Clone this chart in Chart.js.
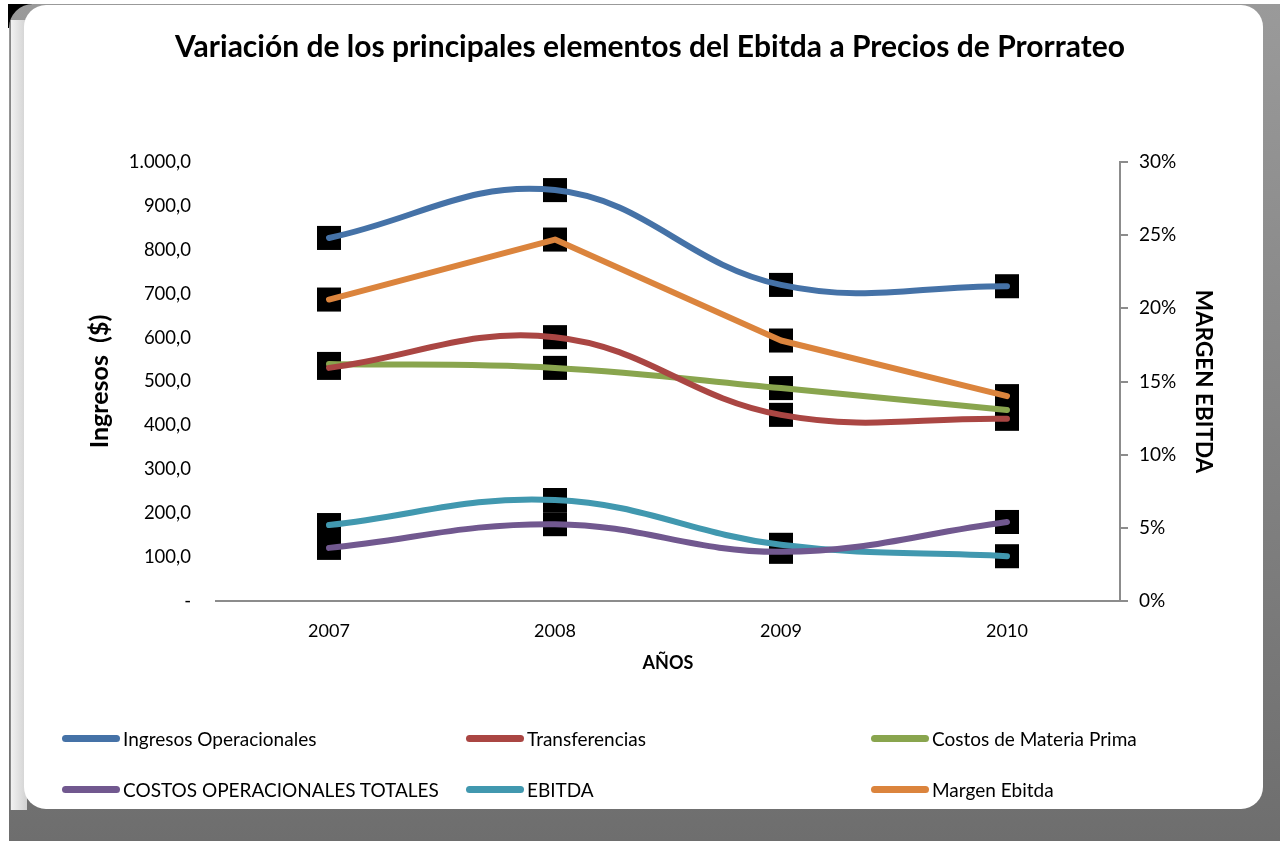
<!DOCTYPE html>
<html>
<head>
<meta charset="utf-8">
<script src="https://cdn.jsdelivr.net/npm/chart.js@4/dist/chart.umd.min.js"></script>
<style>
  html, body { margin:0; padding:0; background:#fff; width:1280px; height:841px; overflow:hidden; font-family: Lato, "Open Sans", sans-serif; }
  #corner { position:absolute; left:8px; top:4px; width:24px; height:24px; background:#000; }
  #outer { position:absolute; left:9px; top:4px; width:1271px; height:837px; border-radius:24px 0 0 0;
           background: linear-gradient(to bottom, #9a9a9a, #6e6e6e); }
  #leftstrip { position:absolute; left:10px; top:20px; width:16px; height:790px;
           background: linear-gradient(to right, #f2f2f2, #d0d0d0); border-left:1px solid #888; }
  #inner { position:absolute; left:24px; top:5px; width:1239px; height:804px; background:#fff; border-radius:22px; }
  canvas { position:absolute; left:0; top:0; }
  #legend { position:absolute; left:0; top:0; width:1280px; height:841px; pointer-events:none; }
  .li { position:absolute; display:flex; align-items:center; font-family: Lato, sans-serif; font-size:19px; color:#000; white-space:nowrap; }
  .sw { width:58px; height:7px; border-radius:4px; margin-right:3px; }
</style>
</head>
<body>
<div id="corner"></div>
<div id="outer"></div>
<div id="leftstrip"></div>
<div id="inner"></div>
<canvas id="c" width="1280" height="841"></canvas>
<div id="legend"></div>
<script>
const years = ['2007', '2008', '2009', '2010'];
const ingresosOperacionales = [827, 936, 720, 717];
const transferencias = [531, 601, 424, 415];
const costosMateriaPrima = [540, 531, 485, 435];
const costosOperacionalesTotales = [121, 175, 112, 180];
const ebitda = [173, 230, 128, 102];
const margenEbitda = [0.206, 0.247, 0.178, 0.140];
const leftTicks = [0, 100, 200, 300, 400, 500, 600, 700, 800, 900, 1000];

const series = [
  { label: 'Ingresos Operacionales', data: ingresosOperacionales, color: '#4572A7', axis: 'y', tension: 0.4 },
  { label: 'Transferencias', data: transferencias, color: '#AA4643', axis: 'y', tension: 0.4 },
  { label: 'Costos de Materia Prima', data: costosMateriaPrima, color: '#89A54E', axis: 'y', tension: 0.4 },
  { label: 'COSTOS OPERACIONALES TOTALES', data: costosOperacionalesTotales, color: '#71588F', axis: 'y', tension: 0.4 },
  { label: 'EBITDA', data: ebitda, color: '#4198AF', axis: 'y', tension: 0.4 },
  { label: 'Margen Ebitda', data: margenEbitda, color: '#DB843D', axis: 'y1', tension: 0 }
];

function fmtEs(v) {
  if (v === 0) return '-';
  const s = v.toFixed(1).split('.');
  const int = s[0].replace(/\B(?=(\d{3})+(?!\d))/g, '.');
  return int + ',' + s[1];
}

const datasets = [];
series.forEach(s => {
  datasets.push({
    label: s.label, data: s.data, yAxisID: s.axis,
    borderColor: s.color, backgroundColor: s.color, borderWidth: 6,
    borderCapStyle: 'round', borderJoinStyle: 'round',
    tension: s.tension, pointRadius: 0, fill: false, order: 0
  });
  datasets.push({
    label: s.label + ' marker', data: s.data, yAxisID: s.axis,
    showLine: false, pointStyle: 'rect', pointRadius: 17, pointHoverRadius: 17,
    backgroundColor: '#000', borderColor: '#000', borderWidth: 0, order: 10
  });
});

new Chart(document.getElementById('c'), {
  type: 'line',
  data: { labels: years, datasets },
  options: {
    responsive: false, animation: false,
    layout: { padding: { left: 80, right: 60, top: 0, bottom: 161 } },
    plugins: {
      legend: { display: false },
      tooltip: { enabled: false },
      title: {
        display: true,
        text: 'Variación de los principales elementos del Ebitda a Precios de Prorrateo',
        color: '#000', font: { family: 'Lato', size: 30, weight: 'bold' },
        padding: { top: 29, bottom: 97 }
      }
    },
    scales: {
      x: {
        offset: true,
        grid: { display: false, drawTicks: false },
        border: { display: true, color: '#8c8c8c', width: 2 },
        ticks: { color: '#000', font: { family: 'Lato', size: 18 }, padding: 19 },
        title: { display: true, text: 'AÑOS', color: '#000', font: { family: 'Lato', size: 18, weight: 'bold' }, padding: { top: 0, bottom: 6 } },
        afterFit: s => { s.height = 79; }
      },
      y: {
        position: 'left', min: 0, max: 1000,
        afterBuildTicks: s => { s.ticks = leftTicks.map(v => ({ value: v })); },
        grid: { display: false, drawTicks: false },
        border: { display: false },
        ticks: { color: '#000', font: { family: 'Lato', size: 18.5 }, padding: 25, callback: v => fmtEs(v) },
        title: { display: true, text: 'Ingresos  ($)', color: '#000', font: { family: 'Lato', size: 25, weight: 'bold' }, padding: { top: 5, bottom: 0 } },
        afterFit: s => { s.width = 136; }
      },
      y1: {
        position: 'right', min: 0, max: 0.3,
        ticks: { stepSize: 0.05, color: '#000', font: { family: 'Lato', size: 19 }, padding: 11, callback: v => Math.round(v * 100) + '%' },
        grid: { display: true, drawOnChartArea: false, drawTicks: true, tickLength: 8, color: '#8c8c8c', lineWidth: 2 },
        border: { display: true, color: '#8c8c8c', width: 2 },
        title: { display: true, text: 'MARGEN EBITDA', color: '#000', font: { family: 'Lato', size: 22.5, weight: 'bold' }, padding: { top: 3, bottom: 0 } },
        afterFit: s => { s.width = 100; }
      }
    }
  }
});

// HTML legend built from the series definitions
const legend = document.getElementById('legend');
const cols = [62, 466, 871];
const rows = [738, 789];
series.forEach((s, i) => {
  const el = document.createElement('div');
  el.className = 'li';
  el.style.left = cols[i % 3] + 'px';
  el.style.top = (rows[Math.floor(i / 3)] - 12) + 'px';
  el.style.height = '24px';
  const sw = document.createElement('div');
  sw.className = 'sw';
  sw.style.background = s.color;
  const tx = document.createElement('span');
  tx.textContent = s.label;
  el.appendChild(sw); el.appendChild(tx);
  legend.appendChild(el);
});
</script>
</body>
</html>
